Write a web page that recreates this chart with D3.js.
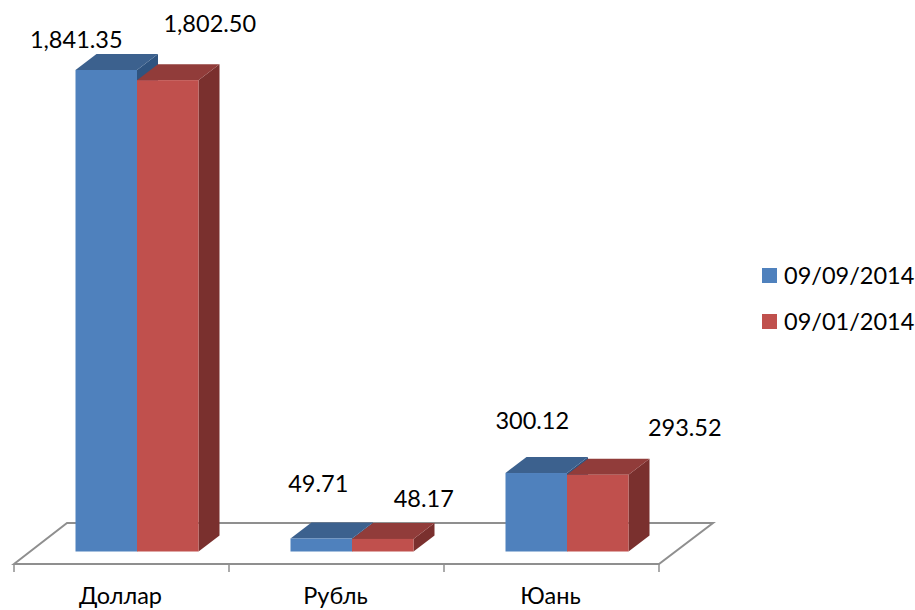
<!DOCTYPE html>
<html><head><meta charset="utf-8">
<script src="https://cdn.jsdelivr.net/npm/d3@7"></script>
<style>html,body{margin:0;background:#fff}svg{display:block}text{font-family:Lato,"Open Sans",sans-serif;fill:#000}</style>
</head><body><svg id="c" width="915" height="610"></svg>
<script>
const categories = ["Доллар", "Рубль", "Юань"];
const seriesNames = ["09/09/2014", "09/01/2014"];
const seriesA = [1841.35, 49.71, 300.12];
const seriesB = [1802.50, 48.17, 293.52];
const labelsA = ["1,841.35", "49.71", "300.12"];
const labelsB = ["1,802.50", "48.17", "293.52"];

const svg = d3.select("#c");
const colors = [
  {front:"#4f81bd", top:"#3c618e", side:"#2f5480"},
  {front:"#c0504d", top:"#913c3a", side:"#7a302e"}
];
const y = d3.scaleLinear().domain([0, 1841.35]).range([551.5, 70]);
const x = d3.scaleBand().domain(categories).range([14, 659]);
const barW = 61.5;
const dx = 21, dy = -16;
const series = [seriesA, seriesB];
const bx = (c,s)=> x(c) + 61.5 + s*barW;

// floor
const floorFront = 564, floorBack = 523, fdx = 53;
svg.append("path")
  .attr("d", `M${x.range()[0]},${floorFront}L${x.range()[0]+fdx},${floorBack}L${x.range()[1]+fdx+1},${floorBack}L${x.range()[1]},${floorFront}Z`)
  .attr("fill","#fff").attr("stroke","#8f8f8f").attr("stroke-width",2);

// axis ticks
const tickPos = [...categories.map(c=>x(c)), x.range()[1]];
svg.selectAll("line.t").data(tickPos).join("line").attr("class","t")
  .attr("x1",d=>d).attr("x2",d=>d).attr("y1",floorFront).attr("y2",572)
  .attr("stroke","#8f8f8f").attr("stroke-width",1.5);

// bars: the first series sits behind the second, so its side shows only above the shorter bar
const g = svg.append("g");
categories.forEach((c,ci)=>{
  [0,1].forEach(s=>{
    const v = series[s][ci], X = bx(c,s), T = y(v), B = y(0), col = colors[s];
    const e = g.append("g");
    e.append("path").attr("d",`M${X+barW},${T}L${X+barW+dx},${T+dy}L${X+barW+dx},${B+dy}L${X+barW},${B}Z`).attr("fill",col.side);
    e.append("path").attr("d",`M${X},${T}L${X+dx},${T+dy}L${X+barW+dx},${T+dy}L${X+barW},${T}Z`).attr("fill",col.top);
    e.append("rect").attr("x",X).attr("y",T).attr("width",barW).attr("height",B-T).attr("fill",col.front);
  });
});

// data labels (offsets from the bar's top centre, as hand-placed in the source chart)
const offsA = [[-30,-22],[-3,-47],[-4,-44]];
const offsB = [[42,-48],[41,-32],[87,-39]];
[[labelsA,offsA],[labelsB,offsB]].forEach(([l,o],s)=>{
  l.forEach((t,i)=>{
    svg.append("text").attr("x",bx(categories[i],s)+barW/2+o[i][0]).attr("y",y(series[s][i])+o[i][1])
      .attr("text-anchor","middle").attr("font-size",23.5).text(t);
  });
});

// category labels
svg.selectAll("text.cat").data(categories).join("text").attr("class","cat")
  .attr("x",d=>x(d)+x.bandwidth()/2-1).attr("y",604).attr("text-anchor","middle")
  .attr("font-size",23.5).text(d=>d);

// legend
const ly = d3.scalePoint().domain(seriesNames).range([276,322]);
seriesNames.forEach((n,i)=>{
  svg.append("rect").attr("x",762).attr("y",ly(n)-8).attr("width",15).attr("height",15).attr("fill",colors[i].front);
  svg.append("text").attr("x",784).attr("y",ly(n)+8).attr("font-size",23.5).text(n);
});
</script></body></html>
